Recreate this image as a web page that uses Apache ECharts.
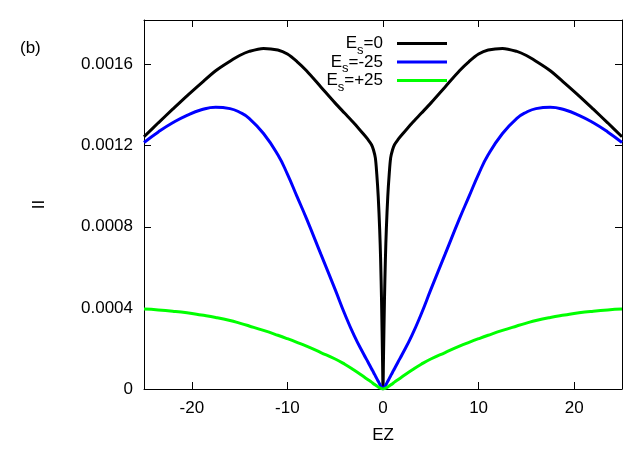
<!DOCTYPE html>
<html>
<head>
<meta charset="utf-8">
<script src="https://cdn.jsdelivr.net/npm/echarts@6/dist/echarts.min.js"></script>
<style>html,body{margin:0;padding:0;background:#fff}#c{width:640px;height:449px}</style>
</head>
<body>
<div id="c"></div>
<script>
var ez = [-25,-23.5,-22,-20.5,-19,-17.5,-16,-15,-14,-12.5,-11,-10,-9,-8,-6.5,-5,-4,-3,-2,-1.6,-1.2,-1,-0.8,-0.65,-0.5,-0.35,-0.25,-0.15,-0.05,0,
          0.05,0.15,0.25,0.35,0.5,0.65,0.8,1,1.2,1.6,2,3,4,5,6.5,8,9,10,11,12.5,14,15,16,17.5,19,20.5,22,23.5,25];
var es0 = [0.001244,0.001313,0.00138,0.001446,0.001509,0.00157,0.001617,0.001645,0.001665,0.00168,0.001672,0.001652,0.001615,0.00157,0.00149,0.00141,0.00136,0.00131,0.001255,0.001232,0.001205,0.00118,0.00114,0.00106,0.00095,0.00079,0.00064,0.00043,0.00015,0,
           0.00015,0.00043,0.00064,0.00079,0.00095,0.00106,0.00114,0.00118,0.001205,0.001232,0.001255,0.00131,0.00136,0.00141,0.00149,0.00157,0.001615,0.001652,0.001672,0.00168,0.001665,0.001645,0.001617,0.00157,0.001509,0.001446,0.00138,0.001313,0.001244];
var esMinus = [0.001216,0.001268,0.001313,0.00135,0.001377,0.00139,0.001383,0.001365,0.001335,0.00126,0.001155,0.00106,0.00095,0.00084,0.000665,0.00049,0.00037,0.000262,0.00017,0.000136,0.0001,0.000083,0.000065,0.000051,0.000038,0.000025,0.000016,0.000008,0.000002,0,
               0.000002,0.000008,0.000016,0.000025,0.000038,0.000051,0.000065,0.000083,0.0001,0.000136,0.00017,0.000262,0.00037,0.00049,0.000665,0.00084,0.00095,0.00106,0.001155,0.00126,0.001335,0.001365,0.001383,0.00139,0.001377,0.00135,0.001313,0.001268,0.001216];
var esPlus = [0.000394,0.00039,0.000384,0.000376,0.000365,0.000353,0.000338,0.000325,0.000311,0.000289,0.000265,0.000248,0.00023,0.000211,0.00018,0.000148,0.000122,0.000092,0.00006,0.000047,0.000034,0.000026,0.00002,0.000015,0.00001,0.000006,0.000004,0.000002,0.0000005,0,
              0.0000005,0.000002,0.000004,0.000006,0.00001,0.000015,0.00002,0.000026,0.000034,0.000047,0.00006,0.000092,0.000122,0.000148,0.00018,0.000211,0.00023,0.000248,0.000265,0.000289,0.000311,0.000325,0.000338,0.000353,0.000365,0.000376,0.000384,0.00039,0.000394];
var xTicks = [-20,-10,0,10,20];
var yTicks = [0,0.0004,0.0008,0.0012,0.0016];
var seriesNames = ['Es=0','Es=-25','Es=+25'];
var legendLabels = {'Es=0':'=0','Es=-25':'=-25','Es=+25':'=+25'};

function pairs(ys){ return ez.map(function(x,i){ return [x, ys[i]]; }); }

var FONT = 'Liberation Sans, Arial, Helvetica, sans-serif';
var chart = echarts.init(document.getElementById('c'), null, {renderer:'canvas'});
var axisLine = {show:true, onZero:false, lineStyle:{color:'#000', width:1}};
var tickX = {show:true, inside:true, length:7, lineStyle:{color:'#000'}, customValues:xTicks};
var tickY = {show:true, inside:true, length:7, lineStyle:{color:'#000'}, customValues:yTicks};
chart.setOption({
  animation:false,
  backgroundColor:'#fff',
  textStyle:{fontFamily:FONT},
  grid:{left:144, right:18, top:20, bottom:57, show:false},
  graphic:[{type:'text', left:20, top:40, style:{text:'(b)', fontSize:17, fontFamily:FONT, fill:'#000'}}],
  legend:{
    data:seriesNames, orient:'vertical', align:'right', right:193, top:35, padding:0, itemGap:-3,
    icon:'rect', itemWidth:50, itemHeight:3, selectedMode:false,
    formatter:function(n){ return '{e|E}{s|s}{t|' + legendLabels[n] + '}'; },
    textStyle:{color:'#000', fontFamily:FONT, rich:{
      e:{fontSize:17, verticalAlign:'middle', fontFamily:FONT, color:'#000'},
      s:{fontSize:13, padding:[13,0,0,0], verticalAlign:'middle', fontFamily:FONT, color:'#000'},
      t:{fontSize:17, verticalAlign:'middle', padding:[0,9,0,0], fontFamily:FONT, color:'#000'}
    }}
  },
  xAxis:[
    {type:'value', min:-25, max:25, position:'bottom', axisLine:axisLine, axisTick:tickX,
     axisLabel:{customValues:xTicks, color:'#000', fontSize:17, margin:11, fontFamily:FONT},
     splitLine:{show:false}, name:'EZ', nameLocation:'middle', nameGap:38,
     nameTextStyle:{color:'#000', fontSize:17, fontFamily:FONT}},
    {type:'value', min:-25, max:25, position:'top', axisLine:axisLine, axisTick:tickX,
     axisLabel:{show:false}, splitLine:{show:false}}
  ],
  yAxis:[
    {type:'value', min:0, max:0.00182, position:'left', axisLine:axisLine, axisTick:tickY,
     axisLabel:{customValues:yTicks, color:'#000', fontSize:17, margin:11, fontFamily:FONT,
       formatter:function(v){ return v===0 ? '0' : v.toFixed(4); }},
     splitLine:{show:false}, name:'II', nameLocation:'middle', nameGap:96, nameRotate:90,
     nameTextStyle:{color:'#000', fontSize:17, fontFamily:FONT}},
    {type:'value', min:0, max:0.00182, position:'right', axisLine:axisLine, axisTick:tickY,
     axisLabel:{show:false}, splitLine:{show:false}}
  ],
  series:[
    {name:'Es=0', type:'line', data:pairs(es0), showSymbol:false, smooth:0.3, lineStyle:{color:'#000000', width:3}, itemStyle:{color:'#000000'}},
    {name:'Es=-25', type:'line', data:pairs(esMinus), showSymbol:false, smooth:0.5, lineStyle:{color:'#0000ff', width:3}, itemStyle:{color:'#0000ff'}},
    {name:'Es=+25', type:'line', data:pairs(esPlus), showSymbol:false, smooth:0.5, lineStyle:{color:'#00ff00', width:3}, itemStyle:{color:'#00ff00'}}
  ]
});
</script>
</body>
</html>
